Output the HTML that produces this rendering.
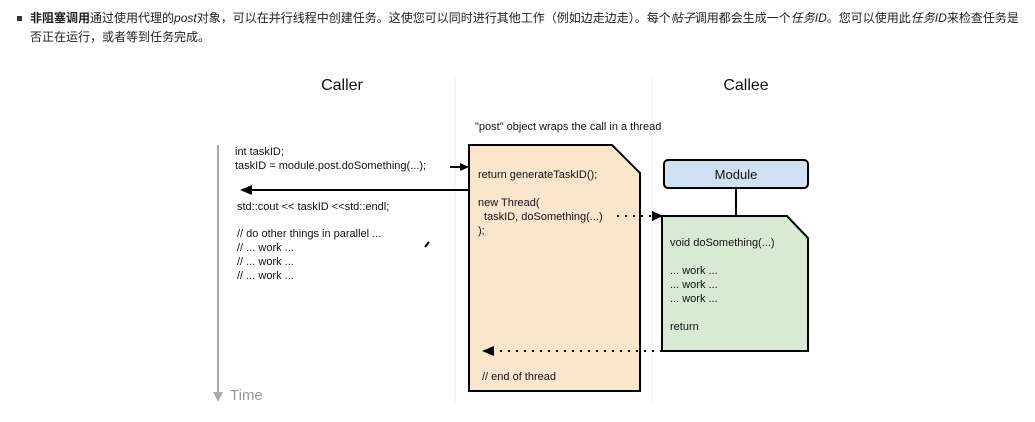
<!DOCTYPE html>
<html><head><meta charset="utf-8"><style>
body{margin:0;width:1035px;height:422px;background:#fff;overflow:hidden;font-family:"Liberation Sans","Noto Sans CJK SC",sans-serif;}
.p{position:absolute;left:30px;top:9px;width:990px;font-size:12px;line-height:19px;color:#222;}
.b{position:absolute;left:17px;top:16px;width:5px;height:5px;background:#333;}
svg{position:absolute;left:0;top:0}
svg text{font-family:"Liberation Sans",sans-serif;font-size:11px;fill:#111}
</style></head><body>
<div class="b"></div>
<div class="p"><b>非阻塞调用</b>通过使用代理的<i>post</i>对象，可以在并行线程中创建任务。这使您可以同时进行其他工作（例如边走边走）。每个<i>帖子</i>调用都会生成一个<i>任务ID</i>。您可以使用此<i>任务ID</i>来检查任务是否正在运行，或者等到任务完成。</div>
<svg width="1035" height="422">
<line x1="455" y1="75" x2="455" y2="405" stroke="#eee"/>
<line x1="652" y1="75" x2="652" y2="405" stroke="#eee"/>
<text x="342" y="90" text-anchor="middle" style="font-size:16px">Caller</text>
<text x="746" y="90" text-anchor="middle" style="font-size:16px">Callee</text>
<text x="475" y="130">"post" object wraps the call in a thread</text>
<line x1="218" y1="145" x2="218" y2="393" stroke="#aaa" stroke-width="2"/>
<polygon points="213,392 223,392 218,402" fill="#aaa"/>
<text x="230" y="400" style="font-size:15px;fill:#999">Time</text>
<text x="235" y="155">int taskID;</text>
<text x="235" y="169">taskID = module.post.doSomething(...);</text>
<text x="237" y="210">std::cout &lt;&lt; taskID &lt;&lt;std::endl;</text>
<text x="237" y="237">// do other things in parallel ...</text>
<text x="237" y="251">// ... work ...</text>
<text x="237" y="265">// ... work ...</text>
<text x="237" y="279">// ... work ...</text>
<line x1="425" y1="247" x2="429" y2="242" stroke="#000" stroke-width="2"/>
<polygon points="469,145 612,145 640,173 640,391 469,391" fill="#fce5cd" stroke="#000" stroke-width="2"/>
<text x="478" y="178">return generateTaskID();</text>
<text x="478" y="206">new Thread(</text>
<text x="484" y="220">taskID, doSomething(...)</text>
<text x="478" y="234">);</text>
<text x="482" y="380">// end of thread</text>
<line x1="450" y1="167" x2="462" y2="167" stroke="#000" stroke-width="2"/>
<polygon points="460,163 469,167 460,171" fill="#000"/>
<line x1="469" y1="190" x2="250" y2="190" stroke="#000" stroke-width="2"/>
<polygon points="252,185 240,190 252,195" fill="#000"/>
<rect x="664" y="160" width="144" height="28" rx="4" fill="#cfe2f3" stroke="#000" stroke-width="2"/>
<text x="736" y="179" text-anchor="middle" style="font-size:13px">Module</text>
<line x1="736" y1="188" x2="736" y2="216" stroke="#000" stroke-width="2"/>
<polygon points="662,216 787,216 808,238 808,351 662,351" fill="#d9ead3" stroke="#000" stroke-width="2"/>
<text x="670" y="246">void doSomething(...)</text>
<text x="670" y="274">... work ...</text>
<text x="670" y="288">... work ...</text>
<text x="670" y="302">... work ...</text>
<text x="670" y="330">return</text>
<line x1="617" y1="216" x2="654" y2="216" stroke="#000" stroke-width="2" stroke-dasharray="2,6"/>
<polygon points="652,211 663,216 652,221" fill="#000"/>
<line x1="662" y1="351" x2="492" y2="351" stroke="#000" stroke-width="2" stroke-dasharray="2,6"/>
<polygon points="494,346 482,351 494,356" fill="#000"/>
</svg>
</body></html>
